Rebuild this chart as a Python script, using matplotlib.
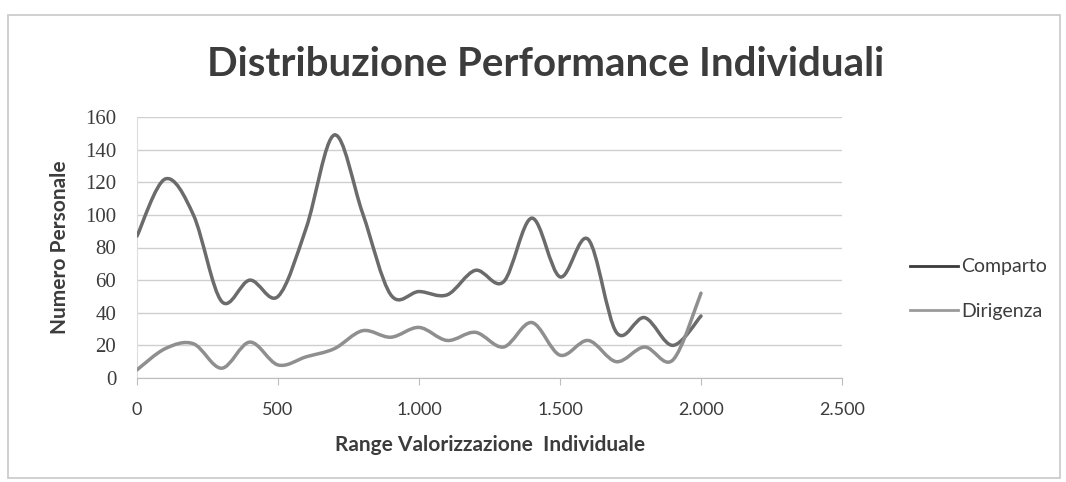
import numpy as np
import matplotlib
matplotlib.use('Agg')
import matplotlib.pyplot as plt
from matplotlib.path import Path
from matplotlib.patches import PathPatch, Rectangle
from matplotlib.lines import Line2D
from matplotlib.ticker import FuncFormatter

# values
valorizzazione = [0, 100, 200, 300, 400, 500, 600, 700, 800, 900, 1000,
                  1100, 1200, 1300, 1400, 1500, 1600, 1700, 1800, 1900, 2000]
comparto = [87, 122, 100, 47, 60, 50, 92, 149, 101, 51, 53,
            51, 66, 59, 98, 62, 85, 28, 37, 20, 38]
dirigenza = [5, 18, 21, 6, 22, 8, 13, 18, 29, 25, 31,
             23, 28, 19, 34, 14, 23, 10, 19, 11, 52]
serie = ['Comparto', 'Dirigenza']
colori = ['#6b6b6b', '#8f8f8f']
legenda_colori = ['#3a3a3a', '#9a9a9a']
testo = '#3c3c3c'


def smooth_path(x, y):
    # excel-like smoothed line: cubic bezier segments through the points
    pts = np.column_stack([x, y]).astype(float)
    n = len(pts)
    verts = [pts[0]]
    codes = [Path.MOVETO]
    for i in range(n - 1):
        p0 = pts[i - 1] if i > 0 else pts[i]
        p1 = pts[i]
        p2 = pts[i + 1]
        p3 = pts[i + 2] if i + 2 < n else pts[i + 1]
        c1 = p1 + (p2 - p0) / 6.0
        c2 = p2 - (p3 - p1) / 6.0
        verts += [c1, c2, p2]
        codes += [Path.CURVE4] * 3
    return Path(verts, codes)


fig = plt.figure(figsize=(10.66, 4.82), dpi=100)
fig.patches.append(Rectangle((8 / 1066, 4 / 482), 1052 / 1066, 463 / 482,
                             transform=fig.transFigure, fill=False,
                             edgecolor='#c8c8c8', lw=1.2))

ax = fig.add_axes([137 / 1066, 1 - 378 / 482, 705 / 1066, 261 / 482])

for dati, col in zip([comparto, dirigenza], colori):
    ax.add_patch(PathPatch(smooth_path(valorizzazione, dati), facecolor='none',
                           edgecolor=col, lw=2.5, capstyle='round', zorder=3))

ax.set_xlim(0, 2500)
ax.set_ylim(0, 160)
ax.set_yticks(range(0, 161, 20))
ax.set_xticks(range(0, 2501, 500))
ax.xaxis.set_major_formatter(FuncFormatter(lambda v, p: f'{int(v):,}'.replace(',', '.')))
ax.grid(axis='y', color='#cfcfcf', lw=1)
ax.set_axisbelow(True)
for s in ['top', 'right']:
    ax.spines[s].set_visible(False)
ax.spines['left'].set_color('#dddddd')
ax.spines['bottom'].set_color('#bdbdbd')
ax.tick_params(axis='y', length=0, pad=15, labelsize=15, labelcolor=testo)
ax.tick_params(axis='x', length=5, color='#bdbdbd', pad=12, labelsize=13,
               labelcolor=testo)
for t in ax.get_yticklabels():
    t.set_family('Liberation Serif')
for t in ax.get_xticklabels():
    t.set_family('Lato')

ax.set_ylabel('Numero Personale', fontsize=15, fontweight='bold', color=testo,
              family='Lato', va='center')
ax.yaxis.set_label_coords((60 - 137) / 705, 0.5)
ax.set_xlabel('Range Valorizzazione  Individuale', fontsize=15, fontweight='bold',
              color=testo, family='Lato', va='center')
ax.xaxis.set_label_coords((490 - 137) / 705, (378 - 445) / 261)

fig.text(546 / 1066, 1 - 65 / 482, 'Distribuzione Performance Individuali',
         ha='center', va='center', fontsize=29, fontweight='bold', color=testo,
         family='Lato')

handles = [Line2D([], [], color=c, lw=2) for c in legenda_colori]
fig.legend(handles, serie, loc='center left', bbox_to_anchor=(892 / 1066, 1 - 289 / 482),
           frameon=False, handlelength=2.5, handletextpad=0.15, labelspacing=1.4,
           prop={'family': 'Lato', 'size': 14}, labelcolor=testo)

fig.savefig('out.png', dpi=100)
